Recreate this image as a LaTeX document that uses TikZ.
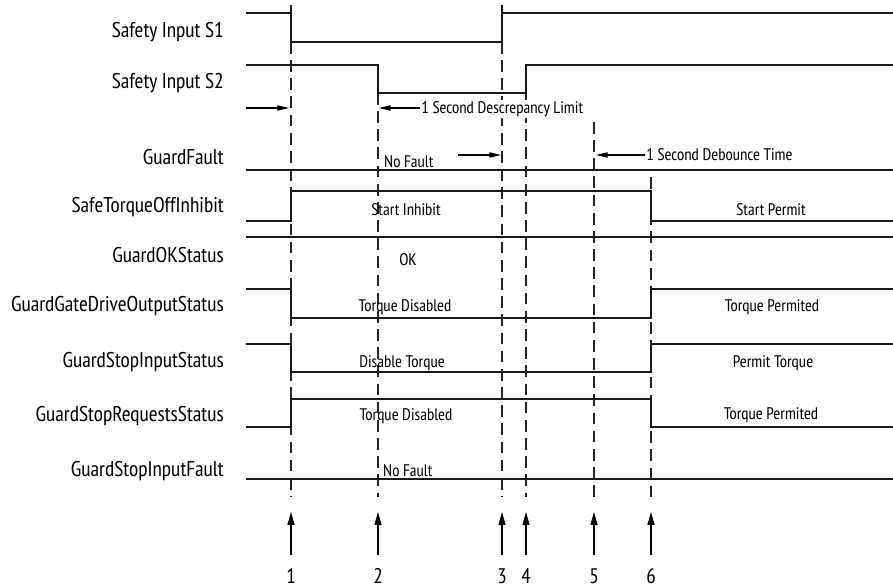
\documentclass[tikz,border=0pt]{standalone}
\usepackage{fontspec}
\setmainfont{PT Sans Narrow}
\usetikzlibrary{arrows.meta, positioning, calc}

\tikzset{
  sig/.style={line width=1.1pt, color=black!90},
  evline/.style={line width=0.9pt, color=black!85, dash pattern=on 10pt off 5.5pt},
  siglabel/.style={anchor=base east, inner sep=0pt, font=\fontsize{18.2}{20}\selectfont},
  state/.style={anchor=base, inner sep=0pt, font=\fontsize{14.3}{16}\selectfont},
  note/.style={anchor=base west, inner sep=1pt, fill=white, font=\fontsize{14.3}{16}\selectfont},
  evarrow/.style={line width=1pt, -{Triangle[length=11pt, width=6pt]}},
  span/.style={line width=0.9pt, -{Triangle[length=10pt, width=4.5pt]}}
}

\begin{document}
\begin{tikzpicture}[x=0.03cm, y=-0.03cm]
    \useasboundingbox (0,0) rectangle (893,588);

    % Event markers: dashed lines, arrows and numbers
    \foreach \x/\top/\n in {291/42/1, 378/93/2, 502/42/3, 526/93/4, 594/122/5, 651/177/6} {
        \draw[evline] (\x,\top) -- (\x,497);
        \coordinate (tail\n) at (\x,555);
        \coordinate (tip\n) at (\x,512);
        \draw[evarrow] (tail\n) -- (tip\n);
        \node[anchor=base, inner sep=0pt, font=\fontsize{18}{20}\selectfont] (num\n) at (\x,583) {\n};
    }

    % Signal names
    \node[siglabel] (lblS1)   at (224,37)  {Safety Input S1};
    \node[siglabel] (lblS2)   at (224,88)  {Safety Input S2};
    \node[siglabel] (lblGF)   at (224,164) {GuardFault};
    \node[siglabel] (lblSTO)  at (224,212) {SafeTorqueOffInhibit};
    \node[siglabel] (lblOK)   at (224,262) {GuardOKStatus};
    \node[siglabel] (lblGGD)  at (224,311) {GuardGateDriveOutputStatus};
    \node[siglabel] (lblGSI)  at (224,367) {GuardStopInputStatus};
    \node[siglabel] (lblGSR)  at (224,421) {GuardStopRequestsStatus};
    \node[siglabel] (lblGSF)  at (224,476) {GuardStopInputFault};

    % Safety Input S1
    \draw[sig] (246,13) -- (291,13) -- (291,42) -- (502,42) -- (502,13) -- (893,13);
    \draw[sig] (291,5) -- (291,13);
    \draw[sig] (502,5) -- (502,13);

    % Safety Input S2
    \draw[sig] (246,65) -- (378,65) -- (378,93) -- (526,93) -- (526,65) -- (893,65);

    % GuardFault
    \draw[sig] (246,170) -- (893,170);

    % SafeTorqueOffInhibit
    \draw[sig] (246,221) -- (291,221) -- (291,191) -- (651,191) -- (651,221) -- (893,221);

    % GuardOKStatus
    \draw[sig] (246,237) -- (893,237);

    % GuardGateDriveOutputStatus
    \draw[sig] (246,289) -- (291,289) -- (291,318) -- (651,318) -- (651,289) -- (893,289);

    % GuardStopInputStatus
    \draw[sig] (246,344) -- (291,344) -- (291,372) -- (651,372) -- (651,344) -- (893,344);

    % GuardStopRequestsStatus
    \draw[sig] (246,427) -- (291,427) -- (291,399) -- (651,399) -- (651,427) -- (893,427);

    % GuardStopInputFault
    \draw[sig] (246,479) -- (893,479);

    % Timing spans
    \coordinate (dlFrom) at (246,108);
    \coordinate (dlTo)   at (289,108);
    \draw[span] (dlFrom) -- (dlTo);
    \node[note] (dlText) at (420,113) {1 Second Descrepancy Limit};
    \coordinate (dlTip) at (379,108);
    \draw[span] (dlText.west |- dlTip) -- (dlTip);

    \coordinate (nfFrom) at (458,155);
    \coordinate (nfTo)   at (501,155);
    \draw[span] (nfFrom) -- (nfTo);
    \node[note] (dbText) at (645,160) {1 Second Debounce Time};
    \coordinate (dbTip) at (596,155);
    \draw[span] (dbText.west |- dbTip) -- (dbTip);

    % State texts
    \node[state, anchor=base west] (gfState)  at (384,167) {No Fault};
    \node[state] (stoOn)   at (406,215) {Start Inhibit};
    \node[state] (stoOff)  at (771,215) {Start Permit};
    \node[state] (okState) at (408,265) {OK};
    \node[state] (ggdOn)   at (405,311) {Torque Disabled};
    \node[state] (ggdOff)  at (772,311) {Torque Permited};
    \node[state] (gsiOn)   at (402,367) {Disable Torque};
    \node[state] (gsiOff)  at (773,367) {Permit Torque};
    \node[state] (gsrOn)   at (406,420) {Torque Disabled};
    \node[state] (gsrOff)  at (771,419) {Torque Permited};
    \node[state, anchor=base west] (gsfState) at (383,476) {No Fault};

\end{tikzpicture}
\end{document}
